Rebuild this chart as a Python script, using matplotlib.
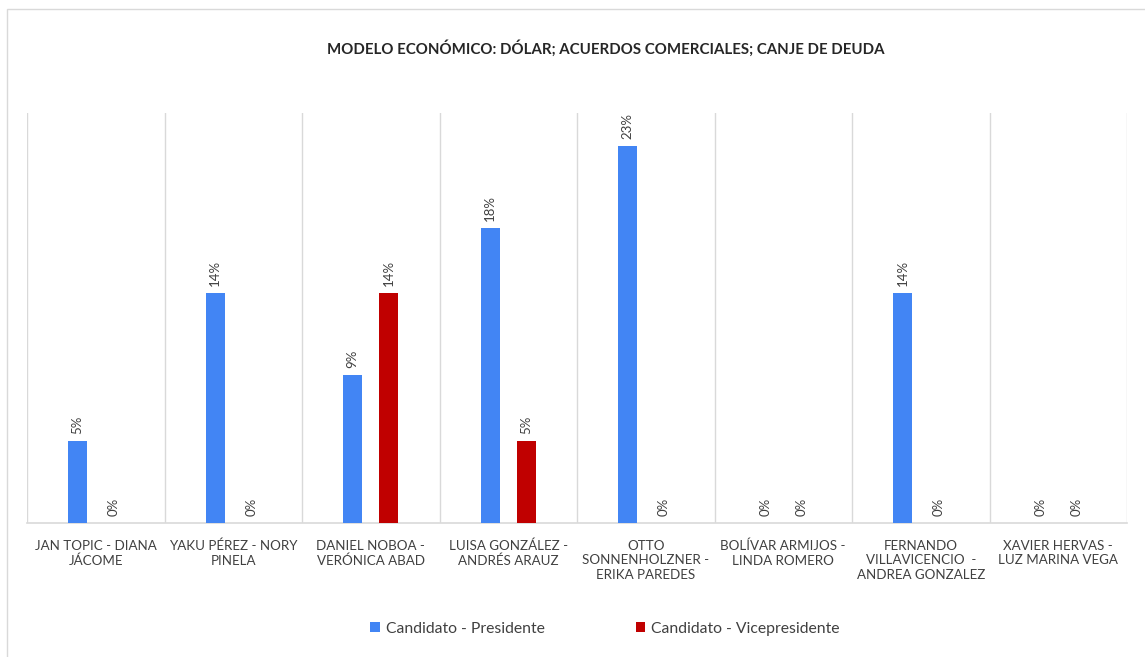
import matplotlib
matplotlib.use("Agg")
import matplotlib.pyplot as plt
import numpy as np
from matplotlib.patches import Rectangle

categories = [
    "JAN TOPIC - DIANA\nJÁCOME",
    "YAKU PÉREZ - NORY\nPINELA",
    "DANIEL NOBOA -\nVERÓNICA ABAD",
    "LUISA GONZÁLEZ -\nANDRÉS ARAUZ",
    "OTTO\nSONNENHOLZNER -\nERIKA PAREDES",
    "BOLÍVAR ARMIJOS -\nLINDA ROMERO",
    "FERNANDO\nVILLAVICENCIO  -\nANDREA GONZALEZ",
    "XAVIER HERVAS -\nLUZ MARINA VEGA",
]
presidente = [0.05, 0.14, 0.09, 0.18, 0.23, 0.00, 0.14, 0.00]
vicepresidente = [0.00, 0.00, 0.14, 0.05, 0.00, 0.00, 0.00, 0.00]
series_names = ["Candidato - Presidente", "Candidato - Vicepresidente"]
title = "MODELO ECONÓMICO: DÓLAR; ACUERDOS COMERCIALES; CANJE DE DEUDA"

plt.rcParams['font.family'] = ['Lato', 'DejaVu Sans']

W, H = 1145, 657
fig = plt.figure(figsize=(W/100, H/100), dpi=100)
ax = fig.add_axes([27/W, 1-523/H, 1100/W, 410/H])

blue = "#4285F4"
red = "#C00000"
x = np.arange(len(categories))
bw = 0.138
off = 0.131
b1 = ax.bar(x - off, presidente, bw, color=blue, label=series_names[0], zorder=3)
b2 = ax.bar(x + off, vicepresidente, bw, color=red, label=series_names[1], zorder=3)

for bars, vals in ((b1, presidente), (b2, vicepresidente)):
    for r, v in zip(bars, vals):
        ax.annotate(f"{v*100:.0f}%", (r.get_x() + r.get_width()/2, v),
                    xytext=(0, 5), textcoords="offset points",
                    rotation=90, ha="center", va="bottom",
                    fontsize=9.5, color="#404040")

ax.set_xlim(-0.5, len(categories) - 0.5)
ax.set_ylim(0, 0.25)
ax.set_yticks([])
ax.set_xticks(x)
ax.set_xticklabels(categories, fontsize=9.6, color="#404040", linespacing=1.25)
ax.tick_params(axis="x", length=0, pad=12)
for b in np.arange(-0.5, len(categories), 1.0):
    ax.axvline(b, color="#D9D9D9", lw=1, zorder=1)
for s in ["top", "left", "right"]:
    ax.spines[s].set_visible(False)
ax.spines["bottom"].set_color("#D9D9D9")
ax.spines["bottom"].set_linewidth(1.2)

fig.text(606/W, 1-48/H, title, ha="center", va="center",
         fontsize=10.8, fontweight="bold", color="#262626")

leg = fig.legend(handles=[b1, b2], labels=series_names, loc="center",
                 bbox_to_anchor=(605/W, 1-629/H), ncol=2, frameon=False,
                 fontsize=11.3, handlelength=0.6, handleheight=0.6,
                 columnspacing=5.8, handletextpad=0.4)
for t in leg.get_texts():
    t.set_color("#404040")

fig.patches.append(Rectangle((7/W, -0.1), 1.2, 1-9/H + 0.1, transform=fig.transFigure,
                             fill=False, edgecolor="#D9D9D9", lw=1))

fig.savefig("out.png", dpi=100)
